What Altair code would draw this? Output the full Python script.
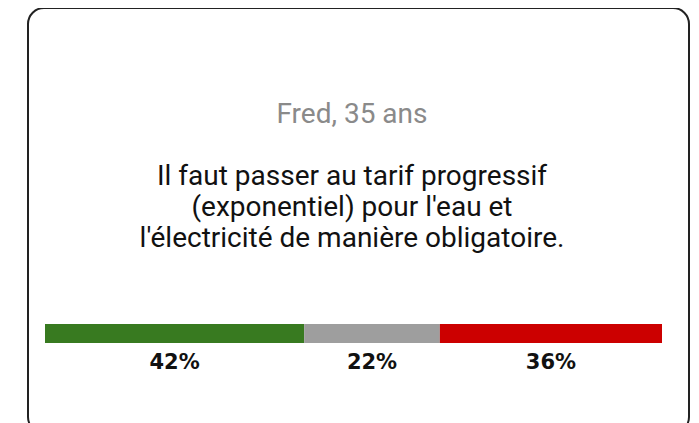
import altair as alt
import pandas as pd

# ---- data ----
categories = ["Pour", "Neutre", "Contre"]
values = [42, 22, 36]
colors = ["#387a20", "#9e9e9e", "#cc0000"]
author = "Fred, 35 ans"
quote_lines = [
    "Il faut passer au tarif progressif",
    "(exponentiel) pour l'eau et",
    "l'électricité de manière obligatoire.",
]

starts, ends, mids = [], [], []
acc = 0
for v in values:
    starts.append(acc)
    ends.append(acc + v)
    mids.append(acc + v / 2)
    acc += v
df = pd.DataFrame({
    "cat": categories,
    "start": starts,
    "end": ends,
    "mid": mids,
    "label": [f"{v}%" for v in values],
})

xs = alt.Scale(domain=[0, 100], range=[17, 634])

bar = alt.Chart(df).mark_rect().encode(
    x=alt.X("start:Q", scale=xs, axis=None),
    x2="end:Q",
    y=alt.value(316),
    y2=alt.value(335),
    color=alt.Color("cat:N", scale=alt.Scale(domain=categories, range=colors), legend=None),
)

labels = alt.Chart(df).mark_text(
    font="DejaVu Sans", fontWeight="bold", fontSize=21, color="#111", baseline="alphabetic"
).encode(
    x=alt.X("mid:Q", scale=xs, axis=None),
    y=alt.value(361),
    text="label:N",
)

title_df = pd.DataFrame({"t": [author]})
title = alt.Chart(title_df).mark_text(
    font="Roboto", fontSize=28, color="#8a8a8a", baseline="alphabetic"
).encode(x=alt.value(324), y=alt.value(115), text="t:N")

quote_df = pd.DataFrame({"t": ["\n".join(quote_lines)]})
quote = alt.Chart(quote_df).mark_text(
    font="Roboto", fontSize=28, color="#111", baseline="alphabetic",
    lineBreak="\n", lineHeight=31,
).encode(x=alt.value(324), y=alt.value(177), text="t:N")

chart = alt.layer(bar, labels, title, quote).properties(
    width=661, height=425,
    background="white",
    padding={"left": 20, "top": 0, "right": 2, "bottom": 0},
).configure_view(
    stroke="#222", strokeWidth=2, cornerRadius=16, fill="white"
)

chart.save("out.html", embed_options={"renderer": "svg", "actions": False})
